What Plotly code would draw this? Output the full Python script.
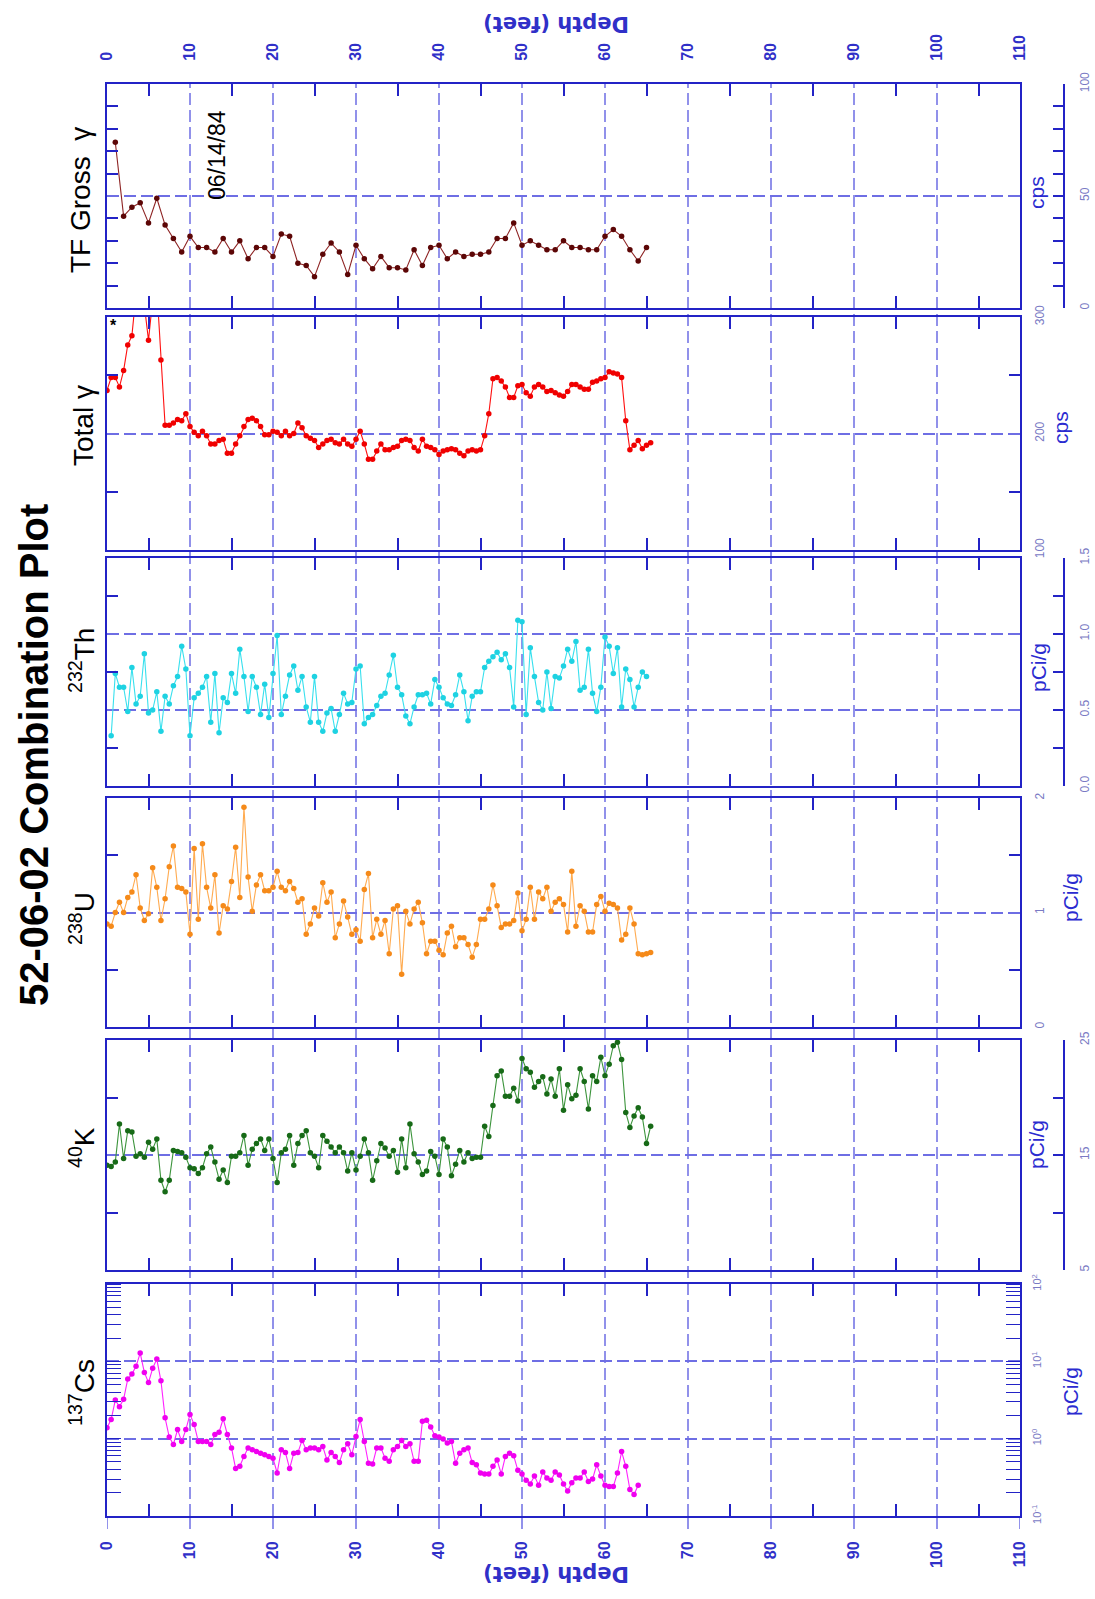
import plotly.graph_objects as go

# ---------------- data ----------------
TF_DEPTH = [1, 2, 3, 4, 5, 6, 7, 8, 9, 10,
            11, 12, 13, 14, 15, 16, 17, 18, 19, 20,
            21, 22, 23, 24, 25, 26, 27, 28, 29, 30,
            31, 32, 33, 34, 35, 36, 37, 38, 39, 40,
            41, 42, 43, 44, 45, 46, 47, 48, 49, 50,
            51, 52, 53, 54, 55, 56, 57, 58, 59, 60,
            61, 62, 63, 64, 65]
TF_GROSS_CPS = [74, 41, 45, 47, 38, 49, 37, 31, 25, 32,
                27, 27, 25, 31, 25, 30, 22, 27, 27, 23,
                33, 32, 20, 19, 14, 24, 29, 25, 15, 28,
                22, 17.5, 23, 18, 18, 17, 26, 19, 27, 28,
                22, 25, 23, 24, 24, 25, 31, 31, 38, 28,
                30, 28, 26, 26, 30, 27, 27, 26, 26, 32,
                35, 32, 26, 21, 27]

HALF_DEPTH = [0.0, 0.5, 1.0, 1.5, 2.0, 2.5, 3.0, 3.5, 4.0, 4.5,
              5.0, 5.5, 6.0, 6.5, 7.0, 7.5, 8.0, 8.5, 9.0, 9.5,
              10.0, 10.5, 11.0, 11.5, 12.0, 12.5, 13.0, 13.5, 14.0, 14.5,
              15.0, 15.5, 16.0, 16.5, 17.0, 17.5, 18.0, 18.5, 19.0, 19.5,
              20.0, 20.5, 21.0, 21.5, 22.0, 22.5, 23.0, 23.5, 24.0, 24.5,
              25.0, 25.5, 26.0, 26.5, 27.0, 27.5, 28.0, 28.5, 29.0, 29.5,
              30.0, 30.5, 31.0, 31.5, 32.0, 32.5, 33.0, 33.5, 34.0, 34.5,
              35.0, 35.5, 36.0, 36.5, 37.0, 37.5, 38.0, 38.5, 39.0, 39.5,
              40.0, 40.5, 41.0, 41.5, 42.0, 42.5, 43.0, 43.5, 44.0, 44.5,
              45.0, 45.5, 46.0, 46.5, 47.0, 47.5, 48.0, 48.5, 49.0, 49.5,
              50.0, 50.5, 51.0, 51.5, 52.0, 52.5, 53.0, 53.5, 54.0, 54.5,
              55.0, 55.5, 56.0, 56.5, 57.0, 57.5, 58.0, 58.5, 59.0, 59.5,
              60.0, 60.5, 61.0, 61.5, 62.0, 62.5, 63.0, 63.5, 64.0, 64.5,
              65.0, 65.5]

TOTAL_GAMMA_CPS = [237, 248, 248, 240, 254, 276, 284, 320, 330, 310,
                   280, 315, 325, 263,
                   207, 207, 209, 212, 211, 217, 206, 201, 198, 202,
                   198, 191, 191, 194, 195, 183, 183, 191, 198, 206,
                   212, 213, 211, 206, 199, 199, 202, 201, 198, 202,
                   198, 200, 209, 205, 198, 196, 194, 188, 191, 194,
                   195, 192, 191, 195, 191, 189, 195, 202, 191, 178,
                   178, 185, 191, 186, 186, 188, 189, 194, 195, 194,
                   188, 185, 195, 189, 188, 186, 182, 185, 186, 187,
                   186, 183, 181, 185, 186, 185, 186, 198, 217, 247,
                   248, 245, 240, 231, 231, 241, 242, 235, 232, 240,
                   242, 240, 236, 237, 235, 233, 232, 236, 242, 242,
                   240, 238, 238, 244, 245, 247, 248, 253, 252, 251,
                   248, 211, 186, 190, 194, 187, 190, 192]

TH232_PCIG = [0.33, 0.74, 0.65, 0.65, 0.49, 0.78, 0.54, 0.59, 0.87, 0.48,
              0.50, 0.62, 0.36, 0.59, 0.54, 0.66, 0.72, 0.92, 0.77, 0.33,
              0.58, 0.61, 0.65, 0.72, 0.42, 0.74, 0.35, 0.58, 0.55, 0.74,
              0.61, 0.90, 0.72, 0.49, 0.72, 0.65, 0.47, 0.67, 0.45, 0.74,
              0.99, 0.47, 0.59, 0.73, 0.79, 0.63, 0.72, 0.52, 0.42, 0.72,
              0.42, 0.36, 0.48, 0.51, 0.36, 0.47, 0.61, 0.54, 0.55, 0.77,
              0.79, 0.41, 0.45, 0.47, 0.53, 0.59, 0.61, 0.73, 0.86, 0.65,
              0.60, 0.46, 0.41, 0.52, 0.60, 0.60, 0.61, 0.54, 0.70, 0.65,
              0.58, 0.54, 0.53, 0.60, 0.73, 0.62, 0.43, 0.59, 0.62, 0.62,
              0.78, 0.82, 0.85, 0.88, 0.83, 0.87, 0.78, 0.52, 1.09, 1.08,
              0.47, 0.91, 0.72, 0.55, 0.50, 0.75, 0.51, 0.72, 0.71, 0.79,
              0.90, 0.82, 0.95, 0.63, 0.65, 0.90, 0.61, 0.49, 0.65, 0.98,
              0.92, 0.74, 0.91, 0.52, 0.77, 0.70, 0.52, 0.65, 0.75, 0.72]

U238_PCIG = [0.90, 0.88, 1.00, 1.09, 1.00, 1.13, 1.18, 1.33, 1.04, 0.93,
             0.99, 1.39, 1.22, 0.93, 1.12, 1.40, 1.58, 1.22, 1.21, 1.18,
             0.81, 1.56, 0.94, 1.60, 1.22, 1.04, 1.33, 0.82, 1.06, 1.03,
             1.27, 1.57, 1.13, 1.92, 1.31, 1.01, 1.24, 1.33, 1.19, 1.19,
             1.22, 1.36, 1.22, 1.19, 1.27, 1.21, 1.09, 1.12, 0.81, 0.90,
             1.04, 0.97, 1.26, 1.09, 1.18, 0.78, 0.90, 1.10, 0.96, 0.81,
             0.85, 0.75, 1.20, 1.34, 0.78, 0.94, 0.81, 0.93, 0.64, 1.03,
             1.06, 0.46, 1.01, 0.90, 1.03, 1.09, 0.91, 0.64, 0.75, 0.75,
             0.67, 0.63, 0.82, 0.88, 0.70, 0.78, 0.78, 0.72, 0.61, 0.72,
             0.94, 0.94, 1.03, 1.24, 1.06, 0.87, 0.90, 0.90, 0.93, 1.17,
             0.84, 0.94, 1.22, 0.94, 1.18, 1.12, 1.22, 1.01, 1.09, 1.12,
             1.07, 0.83, 1.36, 0.88, 1.06, 1.01, 0.83, 0.83, 1.07, 1.14,
             1.01, 1.08, 1.07, 1.04, 0.76, 0.81, 1.04, 0.90, 0.64, 0.63,
             0.64, 0.65]

K40_PCIG = [14.1, 14.0, 14.4, 17.7, 14.7, 17.1, 17.0, 14.9, 15.1, 14.8,
            16.1, 15.5, 16.4, 12.8, 11.8, 12.8, 15.4, 15.3, 15.2, 14.8,
            13.9, 13.8, 13.4, 13.9, 15.1, 15.7, 14.4, 12.9, 13.7, 12.6,
            14.9, 14.9, 15.2, 16.7, 14.1, 15.5, 16.0, 16.4, 15.4, 16.4,
            14.7, 12.6, 15.2, 15.5, 16.7, 14.1, 16.0, 16.7, 17.1, 15.2,
            14.9, 13.9, 16.7, 16.2, 15.7, 15.2, 15.7, 15.2, 13.6, 15.2,
            13.7, 14.9, 16.4, 15.2, 12.8, 14.5, 16.0, 15.6, 14.9, 15.4,
            13.5, 16.4, 13.9, 17.7, 15.1, 14.4, 13.3, 13.6, 15.3, 14.9,
            13.3, 16.4, 15.7, 13.2, 14.2, 15.4, 14.4, 15.2, 14.7, 14.8,
            14.8, 17.5, 16.6, 19.3, 21.9, 22.3, 20.1, 20.1, 20.8, 19.7,
            23.4, 22.5, 22.2, 20.9, 21.4, 21.8, 20.3, 21.6, 20.1, 22.5,
            18.9, 21.1, 19.9, 20.2, 22.5, 21.4, 19.0, 21.9, 21.4, 23.5,
            21.9, 22.9, 24.5, 24.8, 23.3, 18.7, 17.4, 18.4, 19.1, 18.3,
            16.0, 17.5]

CS137_PCIG = [1.38, 1.77, 3.16, 2.59, 3.23, 5.89, 6.84, 8.61, 12.8, 7.19,
              5.32, 8.11, 10.7, 5.60, 1.86, 1.05, 0.84, 1.31, 0.92, 1.31,
              2.06, 1.52, 0.92, 0.92, 0.92, 0.84, 1.13, 1.21, 1.81, 1.13,
              0.76, 0.41, 0.44, 0.59, 0.76, 0.72, 0.68, 0.65, 0.62, 0.59,
              0.56, 0.36, 0.72, 0.66, 0.41, 0.65, 0.66, 0.95, 0.72, 0.76,
              0.76, 0.72, 0.79, 0.53, 0.66, 0.59, 0.49, 0.72, 0.86, 0.62,
              1.07, 1.77, 0.92, 0.48, 0.47, 0.76, 0.76, 0.56, 0.51, 0.72,
              0.79, 0.95, 0.79, 0.86, 0.51, 0.51, 1.68, 1.73, 1.42, 1.09,
              1.05, 0.99, 0.88, 0.92, 0.48, 0.65, 0.72, 0.76, 0.49, 0.46,
              0.36, 0.35, 0.35, 0.44, 0.53, 0.35, 0.59, 0.65, 0.60, 0.39,
              0.35, 0.29, 0.26, 0.33, 0.25, 0.37, 0.31, 0.29, 0.37, 0.34,
              0.26, 0.21, 0.27, 0.31, 0.31, 0.37, 0.28, 0.30, 0.46, 0.33,
              0.25, 0.24, 0.24, 0.36, 0.68, 0.44, 0.22, 0.19, 0.25]

DEPTH_TICKS = [0, 10, 20, 30, 40, 50, 60, 70, 80, 90, 100, 110]
CS_TICKVALS = [0.1, 1, 10, 100]
CS_TICKTEXT = ["10<sup>-1</sup>", "10<sup>0</sup>", "10<sup>1</sup>", "10<sup>2</sup>"]

# ---------------- layout helpers ----------------
W, H = 1095, 1599
def fx(px):
    return px / W
def fy(py):
    return 1 - py / H

X_L, X_R = 107, 1020
PANELS = [(84, 308), (317, 550), (558, 786), (798, 1027), (1040, 1270), (1284, 1516)]

BLUE = "#2323c6"
GRID = "#6e6ee4"
TICKLBL = "#7a7ac4"
UNITC = "#2b2bd0"
DEPTHC = "#3030c8"
FONT = "Liberation Sans, Arial, sans-serif"
DASH = "12px,5px"

fig = go.Figure()

series = [
    (TF_DEPTH, TF_GROSS_CPS, "#8e2424", "#5c0606"),
    (HALF_DEPTH, TOTAL_GAMMA_CPS, "#ff1010", "#f00000"),
    (HALF_DEPTH[1:131], TH232_PCIG, "#38e0ee", "#1ed2e2"),
    (HALF_DEPTH, U238_PCIG, "#ffab50", "#f58a1a"),
    (HALF_DEPTH, K40_PCIG, "#3c943c", "#176a17"),
    (HALF_DEPTH[:129], CS137_PCIG, "#ff22ff", "#f000f0"),
]
for i, (d, v, lc, mc) in enumerate(series, start=1):
    fig.add_trace(go.Scatter(
        x=d, y=v, mode="lines+markers",
        line=dict(color=lc, width=1.1),
        marker=dict(color=mc, size=5.5),
        xaxis=f"x{i}", yaxis=f"y{i}", showlegend=False, hoverinfo="skip"))

# empty traces so the detached value axes are drawn
for xa, ya in [("x1", "y7"), ("x3", "y8"), ("x5", "y9")]:
    fig.add_trace(go.Scatter(x=[], y=[], xaxis=xa, yaxis=ya, showlegend=False))

layout = dict(
    width=W, height=H, margin=dict(l=0, r=0, t=0, b=0, pad=0, autoexpand=False),
    paper_bgcolor="white", plot_bgcolor="rgba(0,0,0,0)",
    showlegend=False, font=dict(family=FONT),
)

y_specs = [
    dict(range=[0, 100], tick0=0, dtick=50, mdt=10, mlen=11, side="left", labels=False),
    dict(range=[100, 300], tick0=100, dtick=100, mdt=50, mlen=11, side="right", labels=True),
    dict(range=[0, 1.5], tick0=0, dtick=0.5, mdt=0.25, mlen=11, side="left", labels=False),
    dict(range=[0, 2], tick0=0, dtick=1, mdt=0.5, mlen=11, side="right", labels=True),
    dict(range=[5, 25], tick0=5, dtick=10, mdt=5, mlen=11, side="left", labels=False),
]

for i, (top, bot) in enumerate(PANELS, start=1):
    xa = dict(
        domain=[fx(X_L), fx(X_R)], range=[0, 110], anchor=f"y{i}", automargin=False,
        showline=True, linecolor=BLUE, linewidth=2, mirror="ticks",
        showgrid=False, zeroline=False, tickmode="linear", tick0=0, dtick=10,
        ticks="", showticklabels=False,
        minor=dict(tick0=5, dtick=10, ticks="inside", ticklen=12,
                   tickcolor=BLUE, tickwidth=1.5, showgrid=False),
    )
    if i == 1:
        xa.update(side="top", showticklabels=True, tickangle=-90,
                  tickfont=dict(size=16, color=DEPTHC, weight="bold"),
                  ticklabelstandoff=18)
    if i == 6:
        xa.update(side="bottom", showticklabels=True, tickangle=-90,
                  tickfont=dict(size=16, color=DEPTHC, weight="bold"),
                  ticklabelstandoff=17)
    layout[f"xaxis{i}"] = xa

    ya = dict(domain=[fy(bot), fy(top)], anchor=f"x{i}", showline=True, automargin=False,
              linecolor=BLUE, linewidth=2, zeroline=False, showgrid=True,
              gridcolor=GRID, griddash=DASH, gridwidth=1.5, ticks="")
    if i <= 5:
        s = y_specs[i - 1]
        ya.update(range=s["range"], tickmode="linear", tick0=s["tick0"], dtick=s["dtick"],
                  side=s["side"], showticklabels=s["labels"],
                  mirror="ticks" if s["labels"] else True,
                  minor=dict(tick0=s["tick0"], dtick=s["mdt"], ticks="inside",
                             ticklen=s["mlen"], tickcolor=BLUE, tickwidth=1.5,
                             showgrid=False))
        if s["labels"]:
            ya.update(tickangle=-90, tickfont=dict(size=12, color=TICKLBL),
                      ticklabelstandoff=8)
    else:
        ya.update(type="log", range=[-1, 2], tickmode="array",
                  tickvals=CS_TICKVALS, ticktext=CS_TICKTEXT, side="right",
                  mirror="ticks", showticklabels=True, tickangle=-90,
                  tickfont=dict(size=11, color=TICKLBL), ticklabelstandoff=6,
                  minor=dict(dtick="D1", ticks="inside", ticklen=14,
                             tickcolor=BLUE, tickwidth=1.2, showgrid=False))
    layout[f"yaxis{i}"] = ya

# detached value axes (TF, Th, K)
detached = [
    ("y7", "y", [0, 100], 0, 50, 10, None),
    ("y8", "y3", [0, 1.5], 0, 0.5, 0.25, ".1f"),
    ("y9", "y5", [5, 25], 5, 10, 5, None),
]
for name, over, rng, t0, dt, mdt, fmt in detached:
    ax = dict(overlaying=over, anchor="free", position=fx(1064), side="right",
              range=rng, showline=True, linecolor=BLUE, linewidth=1.5, automargin=False,
              showgrid=False, zeroline=False, tickmode="linear", tick0=t0, dtick=dt,
              ticks="inside", ticklen=10, tickcolor=BLUE, tickwidth=1.5,
              minor=dict(tick0=t0, dtick=mdt, ticks="inside", ticklen=10,
                         tickcolor=BLUE, tickwidth=1.5, showgrid=False),
              tickangle=-90, tickfont=dict(size=12, color=TICKLBL),
              ticklabelstandoff=10)
    if fmt:
        ax["tickformat"] = fmt
    layout["yaxis" + name[1:]] = ax

# depth grid lines running through all panels, plus ticks below the bottom panel
shapes = []
for d in DEPTH_TICKS[1:-1]:
    shapes.append(dict(type="line", xref="x6", yref="paper", x0=d, x1=d,
                       y0=fy(PANELS[-1][1]), y1=fy(PANELS[0][0]),
                       line=dict(color=GRID, width=1.5, dash=DASH), layer="below"))
for d in DEPTH_TICKS:
    shapes.append(dict(type="line", xref="x6", yref="paper", x0=d, x1=d,
                       y0=fy(PANELS[-1][1] + 13), y1=fy(PANELS[-1][1]),
                       line=dict(color=GRID, width=1.5), layer="below"))
layout["shapes"] = shapes

ann = []
def text(px, py, s, size, color="black", angle=-90, bold=False, family=FONT):
    ann.append(dict(x=fx(px), y=fy(py), xref="paper", yref="paper", text=s,
                    showarrow=False, textangle=angle, xanchor="center", yanchor="middle",
                    font=dict(size=size, color=color, family=family,
                              weight="bold" if bold else "normal")))

text(34, 755, "52-06-02 Combination Plot", 40, bold=True)
text(80, 200, "TF Gross  γ", 28)
text(84, 426, "Total γ", 28)
text(82, 660, "<sup>232</sup>Th", 28)
text(82, 918, "<sup>238</sup>U", 28)
text(82, 1147, "<sup>40</sup>K", 28)
text(82, 1392, "<sup>137</sup>Cs", 28)
text(217, 155, "06/14/84", 23)
text(1036, 193, "cps", 21, color=UNITC)
text(1060, 428, "cps", 21, color=UNITC)
text(1038, 668, "pCi/g", 21, color=UNITC)
text(1070, 898, "pCi/g", 21, color=UNITC)
text(1036, 1145, "pCi/g", 21, color=UNITC)
text(1070, 1392, "pCi/g", 21, color=UNITC)
text(556, 24, "Depth (feet)", 21, color=DEPTHC, angle=180, bold=True,
     family="DejaVu Sans, sans-serif")
text(556, 1574, "Depth (feet)", 21, color=DEPTHC, angle=180, bold=True,
     family="DejaVu Sans, sans-serif")
# off-scale marker at the top-left of the Total gamma panel
text(113, 325, "*", 16, angle=0, bold=True)
layout["annotations"] = ann

fig.update_layout(**layout)
fig.write_html("out.html", config={"displayModeBar": False},
               post_script="document.body.style.margin='0px';")
